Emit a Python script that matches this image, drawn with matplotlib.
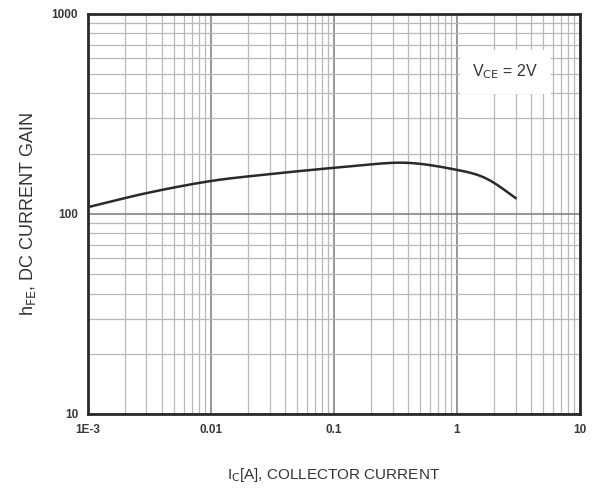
import matplotlib
matplotlib.use("Agg")
import matplotlib.pyplot as plt
import numpy as np
from matplotlib.ticker import FixedLocator, FixedFormatter, LogLocator, NullFormatter

plt.rcParams['font.family'] = ['Liberation Sans', 'DejaVu Sans']

ic = [0.001, 0.003, 0.01, 0.03, 0.1, 0.3, 0.5, 1.0, 1.5, 2.0, 3.0]
hfe = [108, 127, 146, 158, 170, 180, 178, 166, 156, 143, 120]

xticks = [0.001, 0.01, 0.1, 1, 10]
xticklabels = ["1E-3", "0.01", "0.1", "1", "10"]
yticks = [10, 100, 1000]
yticklabels = ["10", "100", "1000"]

fig = plt.figure(figsize=(5.93, 4.94), dpi=100)
ax = fig.add_axes([0.148, 0.162, 0.830, 0.810])

lx = np.log10(ic)
ly = np.log10(hfe)
xs = np.linspace(lx[0], lx[-1], 400)
def hermite(xp, yp, xq):
    out = np.empty_like(xq)
    n = len(xp)
    m = np.zeros(n)
    for i in range(n):
        if i == 0:
            m[i] = (yp[1]-yp[0])/(xp[1]-xp[0])
        elif i == n-1:
            m[i] = (yp[-1]-yp[-2])/(xp[-1]-xp[-2])
        else:
            m[i] = (yp[i+1]-yp[i-1])/(xp[i+1]-xp[i-1])
    for j, x in enumerate(xq):
        k = min(np.searchsorted(xp, x, side='right')-1, n-2)
        h = xp[k+1]-xp[k]
        t = (x-xp[k])/h
        h00 = 2*t**3-3*t**2+1; h10 = t**3-2*t**2+t
        h01 = -2*t**3+3*t**2; h11 = t**3-t**2
        out[j] = h00*yp[k]+h10*h*m[k]+h01*yp[k+1]+h11*h*m[k+1]
    return out
ys = hermite(lx, ly, xs)
ax.plot(10**xs, 10**ys, color='#2a2a2a', lw=1.8)

ax.set_xscale('log')
ax.set_yscale('log')
ax.set_xlim(1e-3, 10)
ax.set_ylim(10, 1000)

ax.xaxis.set_major_locator(FixedLocator(xticks))
ax.xaxis.set_major_formatter(FixedFormatter(xticklabels))
ax.yaxis.set_major_locator(FixedLocator(yticks))
ax.yaxis.set_major_formatter(FixedFormatter(yticklabels))
ax.xaxis.set_minor_locator(LogLocator(base=10, subs=np.arange(2, 10), numticks=20))
ax.yaxis.set_minor_locator(LogLocator(base=10, subs=np.arange(2, 10), numticks=20))
ax.xaxis.set_minor_formatter(NullFormatter())
ax.yaxis.set_minor_formatter(NullFormatter())

ax.grid(True, which='major', color='#7a7a7a', lw=1.1)
ax.grid(True, which='minor', color='#b8b8b8', lw=0.9)
ax.set_axisbelow(True)
ax.tick_params(which='both', length=0, labelsize=8.5, colors='#3a3a3a', pad=7)
for lab in ax.get_xticklabels() + ax.get_yticklabels():
    lab.set_fontweight('bold')
for s in ax.spines.values():
    s.set_linewidth(2.0)
    s.set_color('#2a2a2a')

ax.text(0.848, 0.855, r"V$_{\rm CE}$ = 2V", transform=ax.transAxes, ha='center', va='center',
        fontsize=11.5, color='#333333',
        bbox=dict(facecolor='white', edgecolor='none', pad=9))

ax.set_xlabel(r"I$_{\rm C}$[A], COLLECTOR CURRENT", fontsize=11, color='#333333', labelpad=22)
ax.set_ylabel(r"h$_{\rm FE}$, DC CURRENT GAIN", fontsize=13, color='#333333', labelpad=10)

fig.savefig("out.png", dpi=100)
